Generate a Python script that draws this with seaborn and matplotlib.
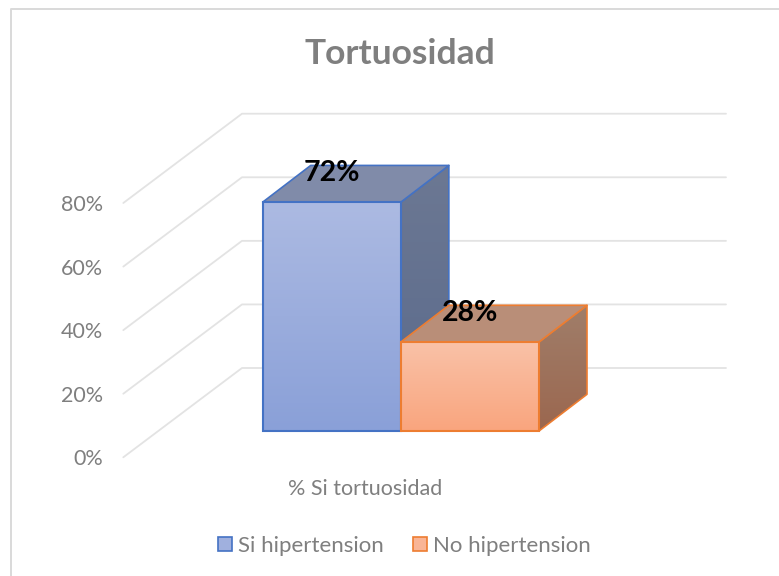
import numpy as np
import pandas as pd
import matplotlib
matplotlib.use("Agg")
import matplotlib.pyplot as plt
import seaborn as sns
from matplotlib.colors import to_rgb
from matplotlib.lines import Line2D
from matplotlib.patches import Patch, Polygon
from matplotlib.transforms import IdentityTransform

# data
CATEGORY = "% Si tortuosidad"
SERIES = ["Si hipertension", "No hipertension"]
VALUES = [72, 28]
TICKS = [0, 20, 40, 60, 80]
TITLE = "Tortuosidad"

# colours: edge, front top/bottom, top face, side top/bottom
EDGE = ["#4472C4", "#ED7D31"]
FRONT_TOP = ["#ACBAE2", "#FAC2A8"]
FRONT_BOTTOM = ["#8AA0D8", "#F9A57E"]
TOP_FACE = ["#808BA9", "#B98E78"]
SIDE_TOP = ["#6C7893", "#A07E6A"]
SIDE_BOTTOM = ["#5A6A8C", "#9B674F"]
GRID = "#E3E3E3"
TEXT = "#7F7F7F"

W, H = 779, 576
sns.set_theme(style="white")
plt.rcParams["font.family"] = ["Lato", "DejaVu Sans"]

fig = plt.figure(figsize=(W / 100, H / 100), dpi=100)


def px_axes(left, right, top, bottom, **kw):
    # axes from picture pixels (y counted from the top)
    return fig.add_axes([left / W, 1 - bottom / H, (right - left) / W, (bottom - top) / H], **kw)


def shade(ax, verts, c_top, c_bottom, z):
    # vertical gradient clipped to a polygon given in display coords
    verts = np.asarray(verts, dtype=float)
    poly = Polygon(verts, closed=True, transform=IdentityTransform(), fc="none", ec="none")
    ax.add_patch(poly)
    (x0, y0) = ax.transData.inverted().transform(verts.min(axis=0))
    (x1, y1) = ax.transData.inverted().transform(verts.max(axis=0))
    ramp = np.linspace(to_rgb(c_top), to_rgb(c_bottom), 64)[:, None, :]
    xlim, ylim = ax.get_xlim(), ax.get_ylim()
    im = ax.imshow(ramp, extent=(x0, x1, y0, y1), aspect="auto", origin="upper",
                   interpolation="bilinear", zorder=z)
    im.set_clip_box(fig.bbox)
    im.set_clip_path(poly)
    ax.set_xlim(xlim)
    ax.set_ylim(ylim)


# back wall axes: front plane of the value scale
wall = px_axes(123.3, 607.3, 203, 457.3)
wall.set_xlim(-0.5, 0.5)
wall.set_ylim(0, 80)
wall.set_facecolor("none")
sns.despine(ax=wall, left=True, bottom=True)
wall.set_yticks(TICKS)
wall.set_yticklabels([f"{t}%" for t in TICKS], color=TEXT, fontsize=15.5)
wall.set_xticks([0])
wall.set_xticklabels([CATEGORY], color=TEXT, fontsize=15.5)
wall.tick_params(axis="y", length=0, pad=14.7)
wall.tick_params(axis="x", length=0, pad=15.7)

WALL_DX, WALL_DY = 118.7, 89.3
WALL_RIGHT = 726
for t in TICKS:
    x0, y0 = wall.transData.transform((-0.5, t))
    wall.add_line(Line2D([x0, x0 + WALL_DX, WALL_RIGHT], [y0, y0 + WALL_DY, y0 + WALL_DY],
                         transform=IdentityTransform(), color=GRID, lw=1.3, clip_on=False))

# bars: seaborn draws the front faces, depth added from their positions
bars = px_axes(262.7, 539, 431 - 254.3, 431)
bars.set_facecolor("none")
df = pd.DataFrame({"cat": [CATEGORY] * len(SERIES), "serie": SERIES, "value": VALUES})
sns.barplot(data=df, x="cat", y="value", hue="serie", hue_order=SERIES, width=1, gap=0,
            ax=bars, legend=False)
bars.set_xlim(-0.5, 0.5)
bars.set_ylim(0, 80)
bars.axis("off")

DEPTH_DX, DEPTH_DY = 48, 36.7
for i, patch in enumerate(bars.patches[:len(SERIES)]):
    x0, y0 = bars.transData.transform((patch.get_x(), 0))
    x1, y1 = bars.transData.transform((patch.get_x() + patch.get_width(), patch.get_height()))
    side = [(x1, y0), (x1 + DEPTH_DX, y0 + DEPTH_DY), (x1 + DEPTH_DX, y1 + DEPTH_DY), (x1, y1)]
    top = [(x0, y1), (x1, y1), (x1 + DEPTH_DX, y1 + DEPTH_DY), (x0 + DEPTH_DX, y1 + DEPTH_DY)]
    z = 2 + i * 5
    shade(bars, side, SIDE_TOP[i], SIDE_BOTTOM[i], z)
    shade(bars, [(x0, y0), (x1, y0), (x1, y1), (x0, y1)], FRONT_TOP[i], FRONT_BOTTOM[i], z + 1)
    for verts, fc in [(side, "none"), (top, TOP_FACE[i])]:
        bars.add_patch(Polygon(verts, closed=True, transform=IdentityTransform(), fc=fc,
                               ec=EDGE[i], lw=1.2, zorder=z + 2, clip_on=False, joinstyle="round"))
    patch.set_facecolor("none")
    patch.set_edgecolor(EDGE[i])
    patch.set_linewidth(1.5)
    patch.set_clip_on(False)
    patch.set_zorder(z + 3)
    bars.annotate(f"{VALUES[i]}%", (patch.get_x() + patch.get_width() / 2, VALUES[i]),
                  xytext=(0, 29), textcoords="offset pixels", ha="center", va="center",
                  fontsize=20.5, fontweight="bold", color="black", zorder=20, annotation_clip=False)

fig.text(400 / W, 1 - 54 / H, TITLE, ha="center", va="center", color=TEXT,
         fontsize=25.5, fontweight="bold")

handles = [Patch(facecolor=c, edgecolor=e, linewidth=1.2)
           for c, e in zip(["#A0B0DE", "#F9B596"], EDGE)]
fig.legend(handles, SERIES, loc="center", bbox_to_anchor=(404.5 / W, 1 - 546 / H), ncol=2,
           frameon=False, fontsize=16, labelcolor=TEXT, handlelength=0.62, handleheight=0.62,
           handletextpad=0.3, columnspacing=1.3)

# chart frame shows only on the left and top in the source crop
fig.add_artist(Line2D([11, 11, W], [0, H - 9, H - 9], transform=IdentityTransform(),
                      color="#D9D9D9", lw=1.4))

fig.savefig("out.png", dpi=100)
